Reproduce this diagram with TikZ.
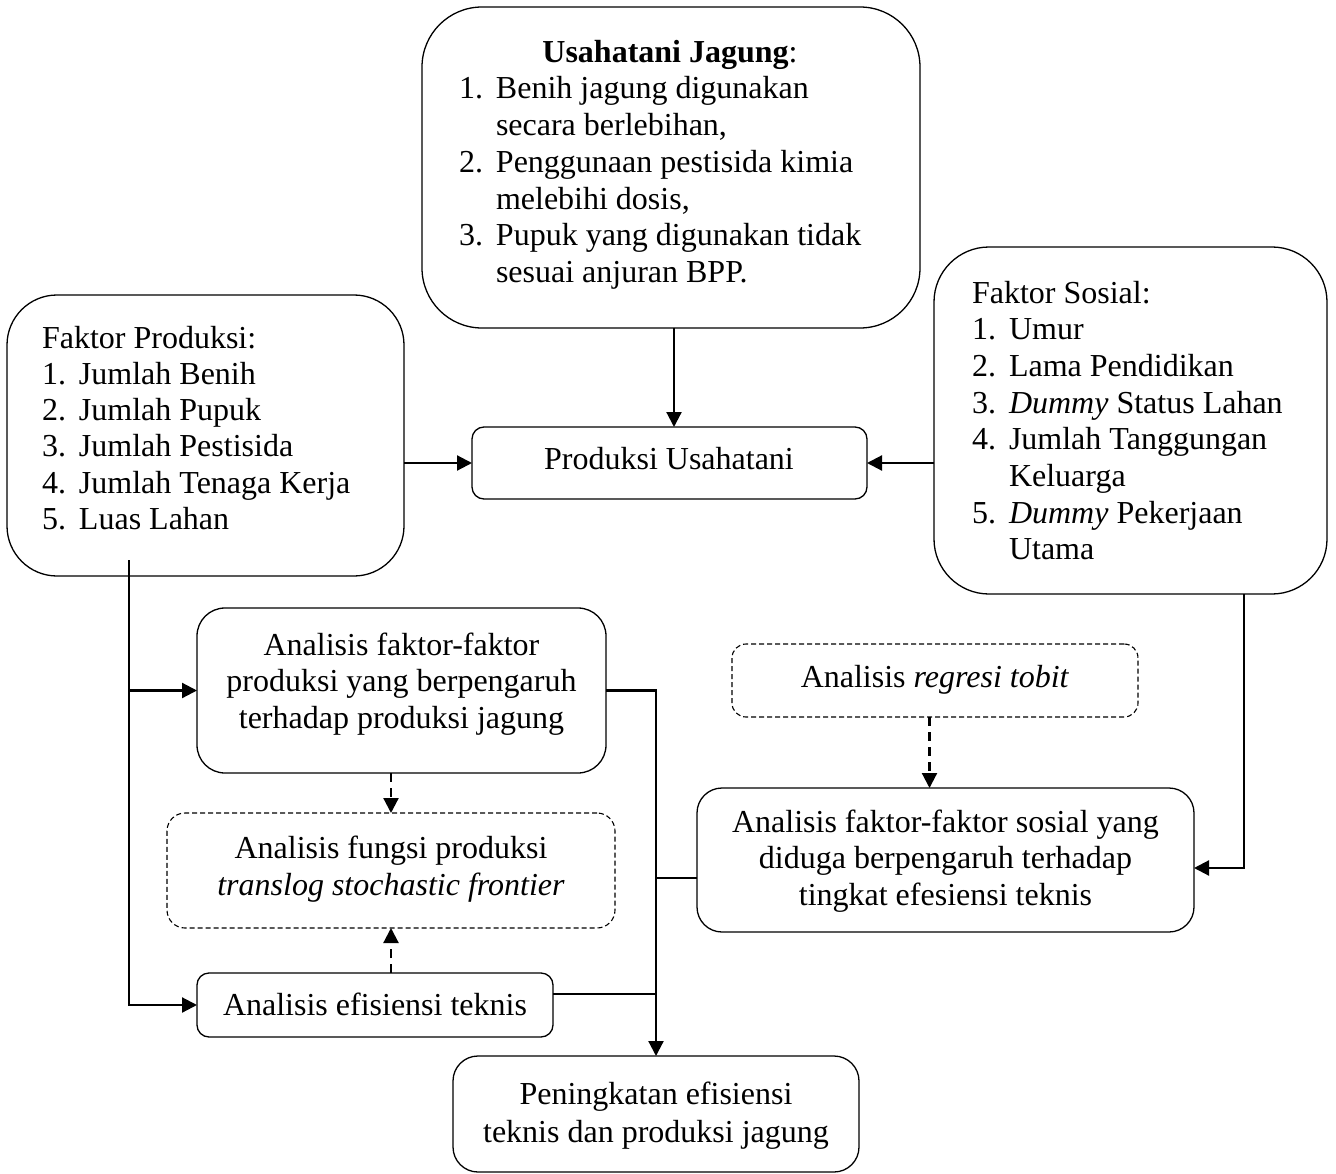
\documentclass[tikz,border=0pt]{standalone}
\usepackage{fontspec}
\setmainfont{Liberation Serif}
\usetikzlibrary{arrows.meta,calc}
\newcommand\nb[1]{\makebox[37pt][l]{#1}}
\newcommand\st{\rule{0pt}{25pt}}
\tikzset{
  box/.style={draw, line width=1.3pt, rounded corners=#1, inner sep=0pt, outer sep=0pt, rectangle},
  dbox/.style={box=#1, dash pattern=on 5pt off 3pt, line width=1.1pt},
  txt/.style={inner sep=0pt, outer sep=0pt, font=\fontsize{32}{36.7}\selectfont},
  conn/.style={line width=2.2pt},
  thin conn/.style={line width=1.8pt},
  arr/.style={conn, -{Triangle[length=15pt,width=15pt]}},
  darr/.style={arr, dash pattern=on 9pt off 6pt}
}
\begin{document}
\begin{tikzpicture}[x=1pt,y=-1pt]
\useasboundingbox (0,0) rectangle (1336,1174);
% boxes
\node[box=60, minimum width=498pt, minimum height=321pt] (jag) at (671,167.5) {};
\node[box=50, minimum width=397pt, minimum height=281pt] (fp) at (205.5,435.5) {};
\node[box=55, minimum width=393pt, minimum height=347pt] (fs) at (1130.5,420.5) {};
\node[box=12, minimum width=395pt, minimum height=72pt] (prod) at (669.5,463) {};
\node[box=28, minimum width=409pt, minimum height=165pt] (afp) at (401.5,690.5) {};
\node[dbox=18, minimum width=448pt, minimum height=115pt] (fun) at (391,870.5) {};
\node[box=12, minimum width=356pt, minimum height=64pt] (eff) at (375,1005) {};
\node[box=25, minimum width=406pt, minimum height=116pt] (pen) at (656,1114) {};
\node[dbox=14, minimum width=406pt, minimum height=73pt] (tob) at (935,680.5) {};
\node[box=25, minimum width=497pt, minimum height=144pt] (soc) at (945.5,860) {};
% texts
\node[txt, anchor=base] (jagT) at (670,63) {\textbf{Usahatani Jagung}:};
\node[txt, anchor=north west, align=left] (jagL) at (459,74) {\st\nb{1.}Benih jagung digunakan\\
\nb{}secara berlebihan,\\
\nb{2.}Penggunaan pestisida kimia\\
\nb{}melebihi dosis,\\
\nb{3.}Pupuk yang digunakan tidak\\
\nb{}sesuai anjuran BPP.};
\node[txt, font=\fontsize{32}{36.3}\selectfont, anchor=north west, align=left] (fpL) at (42,323) {\st Faktor Produksi:\\
\nb{1.}Jumlah Benih\\
\nb{2.}Jumlah Pupuk\\
\nb{3.}Jumlah Pestisida\\
\nb{4.}Jumlah Tenaga Kerja\\
\nb{5.}Luas Lahan};
\node[txt, anchor=north west, align=left] (fsL) at (972,278) {\st Faktor Sosial:\\
\nb{1.}Umur\\
\nb{2.}Lama Pendidikan\\
\nb{3.}\textit{Dummy} Status Lahan\\
\nb{4.}Jumlah Tanggungan\\
\nb{}Keluarga\\
\nb{5.}\textit{Dummy} Pekerjaan\\
\nb{}Utama};
\node[txt, anchor=base] (prodT) at (669,469) {Produksi Usahatani};
\node[txt, anchor=north, align=center] (afpT) at (401.5,630) {\st Analisis faktor-faktor\\produksi yang berpengaruh\\terhadap produksi jagung};
\node[txt, font=\fontsize{32}{37}\selectfont, anchor=north, align=center] (funT) at (391,833) {\st Analisis fungsi produksi\\\textit{translog stochastic frontier}};
\node[txt, anchor=base] (effT) at (375,1015) {Analisis efisiensi teknis};
\node[txt, font=\fontsize{32}{38}\selectfont, anchor=north, align=center] (penT) at (656,1079) {\st Peningkatan efisiensi\\teknis dan produksi jagung};
\node[txt, anchor=base] (tobT) at (935,687) {Analisis \textit{regresi tobit}};
\node[txt, font=\fontsize{32}{36.5}\selectfont, anchor=north, align=center] (socT) at (945.5,807) {\st Analisis faktor-faktor sosial yang\\diduga berpengaruh terhadap\\tingkat efesiensi teknis};
% coordinates
\coordinate (fpdrop) at (129,560);
\coordinate (fsdrop) at (1244,594);
% connectors
\draw[arr] ([xshift=3pt]jag.south) -- ([xshift=3pt]jag.south |- prod.north);
\draw[arr] (fp.east |- prod.west) -- (prod.west);
\draw[arr] (fs.west |- prod.east) -- (prod.east);
\draw[arr] (fpdrop) |- (eff.west);
\draw[arr] (fpdrop |- afp.west) -- (afp.west);
\draw[arr] (afp.east) -| (pen.north);
\draw[thin conn] ([yshift=11pt]eff.east) -- ([yshift=11pt]eff.east -| pen.north);
\draw[thin conn] ([yshift=-18pt]soc.west) -- ([yshift=-18pt]soc.west -| pen.north);
\draw[arr] (fsdrop) |- ([yshift=-8pt]soc.east);
\draw[darr] (afp.south -| fun.north) -- (fun.north);
\draw[darr] (eff.north -| fun.south) -- (fun.south);
\draw[darr] ([xshift=-5.5pt]tob.south) -- ([xshift=-5.5pt]tob.south |- soc.north);
\end{tikzpicture}
\end{document}
